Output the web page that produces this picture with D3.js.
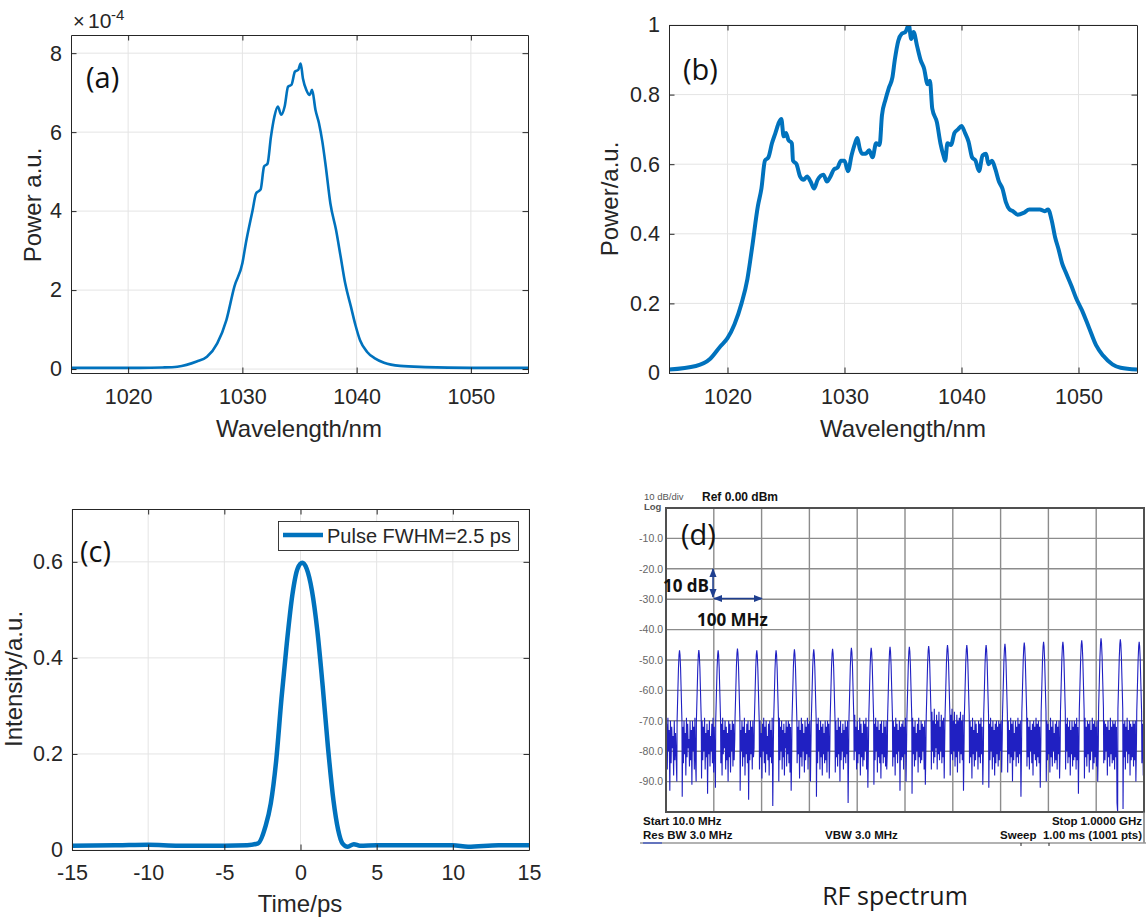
<!DOCTYPE html>
<html><head><meta charset="utf-8">
<script src="https://cdn.jsdelivr.net/npm/d3@7"></script>
<style>body{margin:0;background:#fff}</style>
</head><body>
<svg id="c" width="1146" height="917"></svg>
<script>
// ---------- Panel (a) ----------
const aWavelength = [1015,1018,1021,1023,1024.3,1026.0,1026.9,1027.8,1028.6,1029.3,
  1030.0,1030.3,1030.9,1031.2,1031.4,1031.6,1031.9,1032.2,1032.5,1032.8,
  1033.1,1033.4,1033.7,1034.0,1034.3,1034.6,1034.9,1035.1,1035.3,1035.6,
  1035.9,1036.1,1036.4,1036.7,1037.0,1037.3,1037.7,1038.2,1038.6,1039.0,
  1039.5,1039.9,1040.3,1040.9,1041.6,1042.4,1043.8,1046,1050,1055];
const aPower = [0.03,0.03,0.03,0.04,0.06,0.19,0.31,0.65,1.24,2.09,
  2.68,3.18,4.03,4.45,4.5,4.55,5.13,5.2,5.88,6.39,
  6.65,6.44,6.65,7.15,7.2,7.53,7.58,7.74,7.36,7.07,
  6.94,7.07,6.56,6.23,5.76,5.13,4.2,3.52,2.85,2.17,
  1.58,1.11,0.73,0.44,0.27,0.16,0.08,0.05,0.03,0.03];
const aXTicks = [1020,1030,1040,1050];
const aYTicks = [0,2,4,6,8];

// ---------- Panel (b) ----------
const bWavelength = [1015,1017.3,1018.5,1019.4,1020,1020.6,1021.2,1021.7,1022.1,1022.6,
  1022.9,1023.2,1023.5,1023.8,1024.1,1024.4,1024.6,1024.8,1025.0,1025.2,
  1025.5,1025.6,1025.9,1026.2,1026.5,1026.8,1027.1,1027.4,1027.7,1028.2,
  1028.5,1028.8,1029.1,1029.4,1029.7,1030.0,1030.3,1030.6,1030.9,1031.1,
  1031.3,1031.5,1031.8,1032.1,1032.4,1032.7,1033.0,1033.2,1033.5,1033.8,
  1034.1,1034.3,1034.6,1034.9,1035.2,1035.5,1035.7,1035.9,1036.2,1036.5,
  1036.8,1037.1,1037.3,1037.5,1037.9,1038.2,1038.5,1038.6,1038.8,1039.1,
  1039.4,1039.7,1040.0,1040.3,1040.6,1040.9,1041.2,1041.5,1041.8,1042.1,
  1042.3,1042.6,1042.9,1043.2,1043.5,1043.8,1044.1,1044.4,1044.8,1045.3,
  1045.8,1046.2,1046.7,1047.1,1047.4,1047.7,1048.0,1048.3,1048.6,1048.9,
  1049.4,1049.8,1050.3,1050.9,1051.5,1052.1,1052.9,1053.6,1055];
const bPower = [0.01,0.02,0.04,0.077,0.10,0.14,0.20,0.27,0.36,0.48,
  0.53,0.61,0.62,0.66,0.69,0.72,0.73,0.68,0.69,0.67,
  0.66,0.61,0.60,0.565,0.555,0.565,0.55,0.53,0.555,0.57,
  0.55,0.565,0.585,0.59,0.61,0.61,0.58,0.625,0.66,0.675,
  0.645,0.63,0.63,0.64,0.62,0.66,0.655,0.74,0.785,0.82,
  0.85,0.90,0.955,0.975,0.98,1.0,0.96,0.98,0.94,0.90,
  0.875,0.83,0.84,0.76,0.72,0.66,0.62,0.61,0.66,0.655,
  0.69,0.70,0.71,0.69,0.665,0.62,0.61,0.58,0.625,0.63,
  0.60,0.61,0.585,0.55,0.53,0.49,0.47,0.465,0.455,0.46,
  0.47,0.47,0.47,0.465,0.47,0.44,0.39,0.355,0.315,0.29,
  0.25,0.215,0.18,0.13,0.08,0.05,0.025,0.015,0.01];
const bXTicks = [1020,1030,1040,1050];
const bYTicks = [0,0.2,0.4,0.6,0.8,1];

// ---------- Panel (c) ----------
const cTime = [-15,-12,-10,-8,-5,-3.5,-2.78,-2.3,-1.95,-1.6,
  -1.25,-0.9,-0.54,-0.19,0.12,0.4,0.75,1.1,1.46,1.8,
  2.16,2.47,2.75,3.1,3.5,3.9,5,7,10,11,13,15];
const cIntensity = [0.009,0.010,0.011,0.009,0.009,0.010,0.014,0.049,0.097,0.185,
  0.315,0.43,0.53,0.586,0.598,0.586,0.54,0.458,0.34,0.215,
  0.104,0.042,0.014,0.007,0.012,0.009,0.010,0.010,0.010,0.007,0.010,0.010];
const cXTicks = [-15,-10,-5,0,5,10,15];
const cYTicks = [0,0.2,0.4,0.6];
const cLegend = "Pulse FWHM=2.5 ps";

// ---------- Panel (d) RF spectrum ----------
const rfLevelTicks = [-10,-20,-30,-40,-50,-60,-70,-80,-90];
const rfFreqDivs = [10,109,208,307,406,505,604,703,802,901,1000];
const rfPeakMHz = [38,78,118,158,198,238,276,316,355,394,435,474,514,554,593,633,673,712,752,792,832,871,911,951,990];
const rfPeakDbm = [-46.8,-46.7,-46.8,-46.2,-46.8,-46.8,-46.5,-46.5,-46.3,-46.0,-46.0,-45.7,-45.7,-45.4,-45.1,-45.1,-45.1,-44.7,-44.3,-44.0,-44.0,-43.5,-42.9,-43.2,-44.0];
const rfPeakOffsetMHz = [-5,-3.5,-2.2,-1,0,1,2.2,3.5,5];
const rfPeakRelDb = [-23,-14,-6,-1.5,0,-1.5,-6,-14,-23];
const rfNoiseDbm = [
 [-88,-71,-86,-69,-80,-73,-93,-70,-84,-72,-79,-75,-88,-70,-83,-74,-82,-90],
 [-95,-72,-84,-70,-81,-74,-88,-69,-82,-71,-79,-76,-85,-70,-83,-73,-91,-70,-80,-72,-86,-69,-83,-90],
 [-89,-70,-83,-72,-80,-69,-86,-74,-82,-71,-94,-73,-81,-70,-85,-75,-80,-71,-84,-69,-87,-72,-81,-92],
 [-84,-71,-88,-69,-81,-73,-79,-70,-86,-72,-83,-74,-90,-70,-82,-71,-87,-73,-80,-70,-85,-71,-83,-76],
 [-93,-73,-80,-70,-85,-72,-82,-69,-88,-74,-81,-71,-84,-70,-96,-73,-83,-70,-81,-72,-86,-70,-82,-79],
 [-86,-70,-82,-74,-89,-71,-80,-69,-84,-72,-87,-70,-81,-75,-83,-71,-88,-70,-82,-73,-84,-69,-98,-77],
 [-90,-69,-83,-72,-80,-70,-86,-73,-82,-71,-88,-74,-79,-70,-85,-72,-81,-70,-84,-71,-87,-72,-93,-80],
 [-84,-72,-81,-70,-89,-73,-82,-69,-85,-71,-80,-74,-87,-70,-83,-72,-81,-69,-86,-71,-82,-70,-90,-76],
 [-95,-71,-84,-69,-80,-73,-86,-70,-82,-72,-88,-71,-81,-74,-84,-70,-83,-72,-87,-70,-80,-71,-89,-78],
 [-87,-70,-82,-73,-85,-69,-81,-72,-90,-70,-83,-74,-80,-71,-86,-73,-82,-70,-84,-72,-81,-70,-97,-79],
 [-83,-68,-80,-72,-86,-70,-84,-73,-81,-69,-88,-71,-82,-74,-85,-70,-83,-71,-80,-69,-86,-72,-92,-77],
 [-91,-71,-83,-69,-80,-72,-87,-70,-82,-73,-84,-71,-89,-70,-81,-74,-84,-70,-82,-72,-85,-70,-86,-80],
 [-85,-70,-82,-72,-88,-69,-81,-71,-84,-73,-80,-70,-93,-72,-83,-71,-82,-70,-86,-72,-81,-69,-90,-76],
 [-94,-69,-81,-72,-85,-70,-83,-74,-80,-71,-87,-69,-82,-73,-84,-70,-83,-71,-80,-72,-86,-70,-91,-78],
 [-86,-67,-80,-70,-84,-66,-82,-71,-79,-68,-86,-70,-81,-67,-83,-72,-80,-68,-84,-70,-82,-69,-89,-75],
 [-88,-68,-81,-66,-83,-70,-80,-67,-85,-71,-82,-68,-87,-70,-80,-69,-84,-67,-81,-70,-83,-68,-93,-77],
 [-84,-70,-82,-72,-89,-69,-81,-73,-85,-70,-83,-71,-80,-74,-86,-70,-82,-71,-84,-69,-81,-72,-91,-79],
 [-92,-71,-83,-69,-80,-72,-86,-70,-82,-73,-88,-71,-84,-70,-81,-72,-85,-70,-83,-71,-80,-70,-87,-76],
 [-87,-70,-81,-73,-84,-69,-82,-71,-90,-70,-83,-74,-80,-70,-85,-72,-82,-69,-84,-71,-81,-70,-95,-78],
 [-85,-69,-82,-72,-86,-70,-80,-73,-84,-71,-88,-70,-81,-72,-83,-69,-85,-71,-82,-70,-84,-72,-92,-77],
 [-90,-70,-83,-71,-81,-73,-87,-69,-82,-72,-85,-70,-80,-74,-84,-71,-83,-70,-86,-72,-81,-70,-89,-79],
 [-86,-71,-80,-69,-84,-72,-82,-70,-88,-73,-81,-70,-85,-72,-83,-70,-82,-71,-86,-69,-83,-72,-94,-76],
 [-89,-69,-82,-72,-85,-70,-81,-71,-87,-70,-83,-73,-80,-69,-86,-71,-84,-70,-82,-72,-85,-70,-90,-78],
 [-84,-70,-83,-71,-80,-72,-88,-70,-82,-73,-85,-69,-81,-72,-84,-70,-83,-71,-86,-70,-82,-72,-97,-100],
 [-99,-71,-82,-70,-86,-72,-80,-69,-84,-73,-81,-70,-88,-71,-83,-72,-82,-70,-85,-71,-83,-70,-90,-77],
 [-84,-71,-88,-74]
];

// ---------- drawing ----------
const svg = d3.select('#c');
svg.append('rect').attr('width',1146).attr('height',917).attr('fill','#fff');
const AX='#262626', GRID='#e4e4e4', BLUE='#0072BD';
const TF='"Liberation Sans", Arial, Helvetica, sans-serif';
const CF='"Open Sans", "Noto Sans", sans-serif';
const defs = svg.append('defs');

function panel(o){
  const {x,y,xs,ys,xTicks,yTicks,xFmt,yFmt,id,lw,xPad} = o;
  const [x0,x1]=x.range(), [y0,y1]=y.range();
  const g = svg.append('g');
  g.selectAll(null).data(xTicks).join('line')
    .attr('x1',d=>x(d)).attr('x2',d=>x(d)).attr('y1',y1).attr('y2',y0)
    .attr('stroke',GRID).attr('stroke-width',1);
  g.selectAll(null).data(yTicks).join('line')
    .attr('y1',d=>y(d)).attr('y2',d=>y(d)).attr('x1',x0).attr('x2',x1)
    .attr('stroke',GRID).attr('stroke-width',1);
  defs.append('clipPath').attr('id',id).append('rect')
    .attr('x',x0).attr('y',y1).attr('width',x1-x0).attr('height',y0-y1);
  const line = d3.line().x(i=>x(xs[i])).y(i=>y(ys[i])).curve(d3.curveMonotoneX);
  g.append('path').attr('clip-path',`url(#${id})`).attr('d',line(d3.range(xs.length)))
    .attr('fill','none').attr('stroke',BLUE).attr('stroke-width',lw).attr('stroke-linejoin','round');
  const TL=5.5;
  const axes = [
    [d3.axisBottom(x).tickValues(xTicks).tickFormat(xFmt).tickPadding(xPad), `translate(0,${y0})`],
    [d3.axisTop(x).tickValues(xTicks).tickFormat(()=>''), `translate(0,${y1})`],
    [d3.axisLeft(y).tickValues(yTicks).tickFormat(yFmt).tickPadding(9), `translate(${x0},0)`],
    [d3.axisRight(y).tickValues(yTicks).tickFormat(()=>''), `translate(${x1},0)`]
  ];
  axes.forEach(([a,t])=>{
    const ag = g.append('g').attr('transform',t).call(a.tickSize(-TL).tickSizeOuter(0));
    ag.select('.domain').attr('stroke',AX).attr('stroke-width',1);
    ag.selectAll('.tick line').attr('stroke',AX).attr('stroke-width',1);
    ag.selectAll('.tick text').attr('fill',AX).style('font-family',TF).style('font-size','21.5px');
  });
  return g;
}
function yTitle(t,x,y){
  svg.append('text').attr('transform',`translate(${x},${y}) rotate(-90)`).attr('text-anchor','middle')
    .style('font-family',TF).style('font-size','24px').attr('fill',AX).text(t);
}
function xTitle(t,x,y){
  svg.append('text').attr('x',x).attr('y',y).attr('text-anchor','middle')
    .style('font-family',TF).style('font-size','24px').attr('fill',AX).text(t);
}
function tag(t,x,y){
  svg.append('text').attr('x',x).attr('y',y).style('font-family',CF).style('font-size','29px')
    .attr('fill','#111').text(t);
}
const trim = d=>String(+d.toFixed(2));

// (a)
const xA = d3.scaleLinear([1015,1055],[71,528]);
const yA = d3.scaleLinear([-0.1,8.46],[373,35]);
panel({x:xA,y:yA,xs:aWavelength,ys:aPower,xTicks:aXTicks,yTicks:aYTicks,xFmt:d=>d,yFmt:trim,id:'ca',lw:2.6,xPad:15.5});
yTitle('Power a.u.',41,205); xTitle('Wavelength/nm',299,437); tag('(a)',86,88);
const ex = svg.append('g').style('font-family',TF).attr('fill',AX);
ex.append('text').attr('x',73).attr('y',28).style('font-size','20px').text('\u00d7');
ex.append('text').attr('x',88).attr('y',28).style('font-size','21px').text('10');
ex.append('text').attr('x',111).attr('y',20).style('font-size','15px').text('-4');

// (b)
const xB = d3.scaleLinear([1015,1055],[669,1137]);
const yB = d3.scaleLinear([0,1],[373,25]);
panel({x:xB,y:yB,xs:bWavelength,ys:bPower,xTicks:bXTicks,yTicks:bYTicks,xFmt:d=>d,yFmt:trim,id:'cb',lw:4,xPad:15.5});
yTitle('Power/a.u.',618,199); xTitle('Wavelength/nm',903,437); tag('(b)',683,80);

// (c)
const xC = d3.scaleLinear([-15,15],[72,529]);
const yC = d3.scaleLinear([0,0.71],[850,509]);
panel({x:xC,y:yC,xs:cTime,ys:cIntensity,xTicks:cXTicks,yTicks:cYTicks,xFmt:d=>String(d),yFmt:trim,id:'cc',lw:4.5,xPad:14.5});
yTitle('Intensity/a.u.',22,679); xTitle('Time/ps',300,912); tag('(c)',80,562);
const lg = svg.append('g');
lg.append('rect').attr('x',278.5).attr('y',521.5).attr('width',240).attr('height',29)
  .attr('fill','#fff').attr('stroke',AX).attr('stroke-width',0.9);
lg.append('line').attr('x1',283).attr('x2',323).attr('y1',535).attr('y2',535)
  .attr('stroke',BLUE).attr('stroke-width',4.5);
lg.append('text').attr('x',327).attr('y',542.5).style('font-family',TF).style('font-size','20px')
  .attr('fill',AX).text(cLegend);

// (d)
const xD = d3.scaleLinear([10,1000],[666,1144]);
const yD = d3.scaleLinear([-100,0],[812,508]);
const gd = svg.append('g');
gd.selectAll(null).data(rfFreqDivs.slice(1,-1)).join('line')
  .attr('x1',d=>xD(d)).attr('x2',d=>xD(d)).attr('y1',508).attr('y2',812)
  .attr('stroke','#8c8c8c').attr('stroke-width',1.4);
gd.selectAll(null).data(rfLevelTicks).join('line')
  .attr('y1',d=>yD(d)).attr('y2',d=>yD(d)).attr('x1',666).attr('x2',1144)
  .attr('stroke','#8c8c8c').attr('stroke-width',1.4);
// trace: noise segments between harmonic peaks
const pts=[];
const PW = rfPeakOffsetMHz[rfPeakOffsetMHz.length-1];
for(let g=0; g<rfNoiseDbm.length; g++){
  const row = rfNoiseDbm[g];
  const s = g===0 ? 10 : rfPeakMHz[g-1]+PW+0.6;
  const e = g===rfPeakMHz.length ? 1000 : rfPeakMHz[g]-PW-0.6;
  row.forEach((v,i)=>pts.push([s+(e-s)*i/(row.length-1), v]));
  if(g<rfPeakMHz.length){
    rfPeakOffsetMHz.forEach((off,k)=>pts.push([rfPeakMHz[g]+off, rfPeakDbm[g]+rfPeakRelDb[k]]));
  }
}
defs.append('clipPath').attr('id','cd').append('rect').attr('x',666).attr('y',508).attr('width',478).attr('height',304);
gd.append('path').attr('clip-path','url(#cd)')
  .attr('d',d3.line().x(p=>xD(p[0])).y(p=>yD(Math.max(-100,p[1])))(pts))
  .attr('fill','none').attr('stroke','#2020c2').attr('stroke-width',1.1);
// frame
gd.append('rect').attr('x',666).attr('y',508).attr('width',478).attr('height',304)
  .attr('fill','none').attr('stroke','#505050').attr('stroke-width',2);
gd.append('line').attr('x1',1144).attr('x2',1144).attr('y1',812).attr('y2',843).attr('stroke','#777').attr('stroke-width',1.5);
gd.append('line').attr('x1',640).attr('x2',1146).attr('y1',843).attr('y2',843).attr('stroke','#999').attr('stroke-width',1.5);
gd.append('line').attr('x1',643).attr('x2',662).attr('y1',843).attr('y2',843).attr('stroke','#4a5fc1').attr('stroke-width',1.5);
[1021,1049].forEach(xx=>gd.append('line').attr('x1',xx).attr('x2',xx).attr('y1',843).attr('y2',846).attr('stroke','#222'));
// y labels
const ayd = gd.append('g').attr('transform','translate(666,0)')
  .call(d3.axisLeft(yD).tickValues(rfLevelTicks).tickFormat(d=>d.toFixed(1)).tickSize(0).tickPadding(3));
ayd.select('.domain').remove();
ayd.selectAll('text').attr('fill','#666').style('font-family',TF).style('font-size','10.5px');
// header / footer text
const t = (s,x,y,o={})=>gd.append('text').attr('x',x).attr('y',y)
  .attr('text-anchor',o.a||'start').style('font-family',TF).style('font-size',(o.fs||11.5)+'px')
  .style('font-weight',o.w||'bold').attr('fill',o.c||'#111').text(s);
t('10 dB/div',644,499.5,{fs:9.5,w:'normal',c:'#555'});
t('Log',644,509.5,{fs:9.5,c:'#555'});
t('Ref 0.00 dBm',702,501,{fs:12});
t('Start 10.0 MHz',643,825);
t('Res BW 3.0 MHz',643,838.5);
t('VBW 3.0 MHz',825,838.5);
t('Stop 1.0000 GHz',1142,825,{a:'end'});
t('Sweep  1.00 ms (1001 pts)',1142,838.5,{a:'end'}).style('white-space','pre');
// arrows
const AC='#1f3f8f';
['s','e'].forEach(k=>{
  defs.append('marker').attr('id','ar'+k).attr('viewBox','0 0 10 10').attr('refX',9).attr('refY',5)
    .attr('markerWidth',6).attr('markerHeight',6).attr('orient','auto-start-reverse')
    .append('path').attr('d','M0,1L10,5L0,9Z').attr('fill',AC);
});
gd.append('line').attr('x1',713).attr('x2',713).attr('y1',569).attr('y2',597)
  .attr('stroke',AC).attr('stroke-width',1.5).attr('marker-start','url(#ars)').attr('marker-end','url(#are)');
gd.append('line').attr('x1',714).attr('x2',762).attr('y1',598.5).attr('y2',598.5)
  .attr('stroke',AC).attr('stroke-width',1.5).attr('marker-start','url(#ars)').attr('marker-end','url(#are)');
gd.append('text').attr('x',663).attr('y',591.5).style('font-family',CF).style('font-weight','bold')
  .style('font-size','17px').attr('fill','#111').text('10 dB');
gd.append('text').attr('x',697).attr('y',625.5).style('font-family',CF).style('font-weight','bold')
  .style('font-size','17px').attr('fill','#111').text('100 MHz');
tag('(d)',681,545);
svg.append('text').attr('x',895).attr('y',905).attr('text-anchor','middle').style('font-family',CF)
  .style('font-size','25px').attr('fill','#1a1a1a').text('RF spectrum');
</script>
</body></html>
